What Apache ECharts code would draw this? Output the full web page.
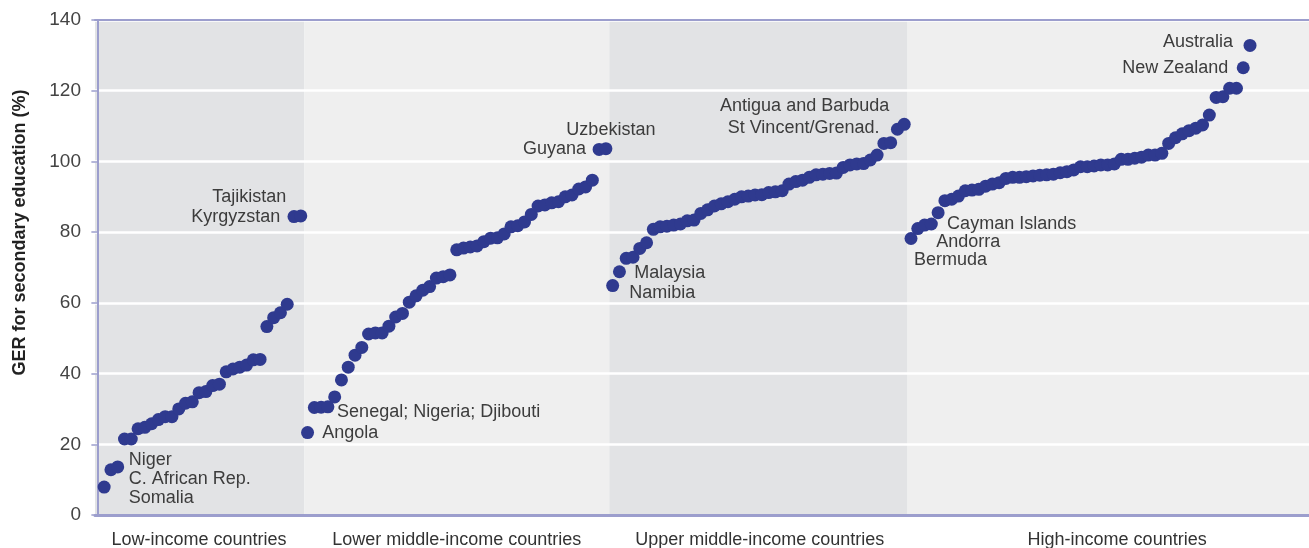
<!DOCTYPE html>
<html>
<head>
<meta charset="utf-8">
<script src="https://cdn.jsdelivr.net/npm/echarts@6/dist/echarts.min.js"></script>
<style>
  html, body { margin: 0; padding: 0; background: #fff; }
  #chart { width: 1309px; height: 548px; }
</style>
</head>
<body>
<div id="chart"></div>
<script>
// GER for secondary education (%), countries sorted within each income group
var groupNames = ["Low-income countries", "Lower middle-income countries", "Upper middle-income countries", "High-income countries"];

var lowIncome = [7.9, 12.8, 13.6, 21.5, 21.5, 24.4, 24.8, 25.8, 27, 27.8, 27.8, 30, 31.6, 32, 34.6,
  34.9, 36.6, 37, 40.5, 41.3, 41.8, 42.4, 43.9, 44, 53.3, 55.8, 57.2, 59.6, 84.4, 84.6];

var lowerMiddle = [23.3, 30.4, 30.5, 30.6, 33.4, 38.2, 41.8, 45.2, 47.4, 51.2, 51.5, 51.5, 53.4, 56, 57,
  60.2, 62, 63.6, 64.6, 67, 67.4, 67.9, 75, 75.5, 75.8, 76.1, 77.3, 78.3, 78.4, 79.5,
  81.5, 81.8, 82.9, 85, 87.4, 87.7, 88.3, 88.6, 90, 90.5, 92.2, 92.8, 94.7, 103.4, 103.6];

var upperMiddle = [64.9, 68.8, 72.6, 72.9, 75.4, 77, 80.8, 81.5, 81.7, 82, 82.3, 83.2, 83.4, 85.3, 86.3,
  87.4, 88, 88.6, 89.3, 90, 90.2, 90.5, 90.6, 91.2, 91.4, 91.7, 93.6, 94.3, 94.7, 95.5,
  96.2, 96.4, 96.6, 96.7, 98.3, 99, 99.3, 99.4, 100.4, 101.8, 105.1, 105.3, 109.1, 110.5];

var highIncome = [78.2, 81, 82, 82.3, 85.5, 88.9, 89.3, 90.2, 91.7, 91.9, 92.1, 93, 93.6, 94, 95.2,
  95.5, 95.5, 95.7, 95.9, 96.1, 96.2, 96.4, 96.8, 97.1, 97.6, 98.5, 98.5, 98.7, 99, 99,
  99.3, 100.6, 100.6, 100.9, 101.2, 101.8, 101.8, 102.3, 105.1, 106.7, 107.8, 108.7, 109.4, 110.3, 113.1,
  118.1, 118.3, 120.7, 120.7, 126.5, 132.8];

// labelled countries, keyed by position in the combined list
var countryNames = {
  2: "Niger\nC. African Rep.\nSomalia",
  28: "Kyrgyzstan",
  29: "Tajikistan",
  30: "Angola",
  33: "Senegal; Nigeria; Djibouti",
  73: "Guyana",
  74: "Uzbekistan",
  75: "Namibia",
  76: "Malaysia",
  117: "St Vincent/Grenad.",
  118: "Antigua and Barbuda",
  119: "Bermuda",
  120: "Andorra",
  123: "Cayman Islands",
  168: "New Zealand",
  169: "Australia"
};

// ---- layout ----
var font = '"Liberation Sans", Arial, sans-serif';
var axisColor = "#9c9ecd";
var dotColor = "#2f3a8f";
var bandColors = ["#e2e3e5", "#efefef", "#e2e3e5", "#efefef"];
var xMin = -0.35, xMax = 178.7;
var groupLabelX = [15, 53, 97.7, 150.4];
var dotSize = 13;

// label offsets from the dot centre: [dx, dy, align]
var labelPlace = {
  2: [11, 12, "left"],
  28: [-13.8, 0, "right"],
  29: [-14.6, -19, "right"],
  30: [14.6, 0, "left"],
  33: [9.2, 5, "left"],
  73: [-13, 0, "right"],
  74: [5, -19, "center"],
  75: [16.5, 7.5, "left"],
  76: [14.7, 1.3, "left"],
  117: [-18, -1, "right"],
  118: [-15, -18, "right"],
  119: [3, 21.5, "left"],
  120: [18.4, 13.4, "left"],
  123: [9, 11, "left"],
  168: [-15, 0, "right"],
  169: [-17, -3, "right"]
};

var groups = [lowIncome, lowerMiddle, upperMiddle, highIncome];
var all = [].concat.apply([], groups);

var bands = [];
var start = xMin, count = 0;
groups.forEach(function (g, gi) {
  count += g.length;
  var end = gi === groups.length - 1 ? xMax : count + 0.5;
  bands.push([{ xAxis: start, itemStyle: { color: bandColors[gi] } }, { xAxis: end }]);
  start = end;
});

var points = all.map(function (v, i) {
  var item = { value: [i + 1, v] };
  if (countryNames[i]) {
    var p = labelPlace[i];
    item.label = {
      show: true,
      formatter: countryNames[i],
      position: [dotSize / 2 + p[0], dotSize / 2 + p[1]],
      align: p[2],
      verticalAlign: "middle"
    };
  }
  return item;
});

var chart = echarts.init(document.getElementById("chart"));
var option = {
  animation: false,
  backgroundColor: "#fff",
  grid: { left: 95, right: 0, top: 20, bottom: 33, containLabel: false, outerBoundsMode: "none" },
  xAxis: [
    {
      type: "value",
      min: xMin,
      max: xMax,
      z: 2,
      axisLine: { show: true, onZero: false, lineStyle: { color: axisColor, width: 3 } },
      axisTick: { show: false },
      splitLine: { show: false },
      axisLabel: {
        show: true,
        customValues: groupLabelX,
        formatter: function (v) {
          var best = 0;
          groupLabelX.forEach(function (x, k) {
            if (Math.abs(x - v) < Math.abs(groupLabelX[best] - v)) best = k;
          });
          return groupNames[best];
        },
        color: "#333",
        fontSize: 18,
        fontFamily: font,
        margin: 16
      }
    },
    {
      type: "value",
      position: "top",
      min: xMin,
      max: xMax,
      z: 2,
      axisLine: { show: true, onZero: false, lineStyle: { color: axisColor, width: 2 } },
      axisTick: { show: false },
      axisLabel: { show: false },
      splitLine: { show: false }
    }
  ],
  yAxis: {
    type: "value",
    min: 0,
    max: 140,
    interval: 20,
    z: 2,
    name: "GER for secondary education (%)",
    nameLocation: "middle",
    nameRotate: 90,
    nameGap: 66,
    nameTextStyle: { color: "#222", fontSize: 18, fontWeight: "bold", fontFamily: font, padding: [0, 0, 0, 70] },
    axisLine: { show: true, lineStyle: { color: axisColor, width: 2 } },
    axisTick: { show: true, length: 6, lineStyle: { color: axisColor, width: 1.5 } },
    axisLabel: { color: "#444", fontSize: 19, fontFamily: font, margin: 14 },
    splitLine: { show: true, lineStyle: { color: "#fff", width: 2.5 } }
  },
  series: [
    {
      type: "scatter",
      z: 0,
      data: [],
      markArea: { silent: true, z: 1, data: bands }
    },
    {
      type: "scatter",
      z: 3,
      symbolSize: dotSize,
      itemStyle: { color: dotColor, opacity: 1 },
      label: { show: false, color: "#3c3c3c", fontSize: 18, fontFamily: font, lineHeight: 19 },
      data: points
    }
  ]
};
chart.setOption(option);
</script>
</body>
</html>
